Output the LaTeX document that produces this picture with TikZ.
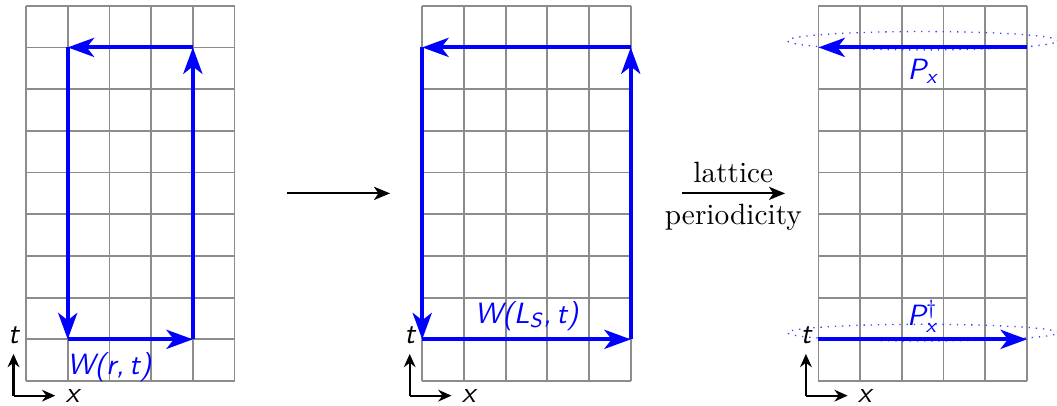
\documentclass[tikz,border=0pt]{standalone}
\usepackage{amsmath}
\usetikzlibrary{arrows.meta}
\tikzset{
  gridline/.style={draw=black!45, line width=0.6pt},
  loopseg/.style={draw=blue, line width=1.4pt, -{Stealth[length=9pt,width=6.5pt,inset=2.5pt]}},
  axisarrow/.style={draw=black, line width=0.75pt, -{Stealth[length=4.5pt,width=4pt]}},
  maparrow/.style={draw=black, line width=0.7pt, -{Stealth[length=5.5pt,width=4.5pt,inset=1.5pt]}},
  bluelbl/.style={text=blue, font=\sffamily\itshape, inner sep=0pt},
  axlbl/.style={font=\sffamily\itshape},
  halo/.style={draw=blue!75, dotted, line width=0.45pt},
}
\begin{document}
\begin{tikzpicture}[x=0.5cm,y=0.5cm]
\useasboundingbox (-0.624,-0.576) rectangle (24.72,9.137);

% grids
\foreach \gx in {0,9.5,19}{
  \foreach \i in {0,...,5}{
    \draw[gridline] (\gx+\i,0) -- (\gx+\i,9);
  }
  \foreach \j in {0,...,9}{
    \draw[gridline] (\gx,\j) -- (\gx+5,\j);
  }
}

% axes 1
\coordinate (o1) at (-0.3,-0.35);
\coordinate (x1) at (0.7,-0.35);
\coordinate (t1) at (-0.3,0.65);
\draw[axisarrow] (o1) -- (x1);
\draw[axisarrow] (o1) -- (t1);
\node[axlbl, right] (x1l) at (x1) {x};
\node[axlbl, above] (t1l) at (t1) {t};
% axes 2
\coordinate (o2) at (9.2,-0.35);
\coordinate (x2) at (10.2,-0.35);
\coordinate (t2) at (9.2,0.65);
\draw[axisarrow] (o2) -- (x2);
\draw[axisarrow] (o2) -- (t2);
\node[axlbl, right] (x2l) at (x2) {x};
\node[axlbl, above] (t2l) at (t2) {t};
% axes 3
\coordinate (o3) at (18.7,-0.35);
\coordinate (x3) at (19.7,-0.35);
\coordinate (t3) at (18.7,0.65);
\draw[axisarrow] (o3) -- (x3);
\draw[axisarrow] (o3) -- (t3);
\node[axlbl, right] (x3l) at (x3) {x};
\node[axlbl, above] (t3l) at (t3) {t};

% loop 1
\coordinate (a1) at (1,1);
\coordinate (b1) at (4,1);
\coordinate (c1) at (4,8);
\coordinate (d1) at (1,8);
\draw[loopseg] (a1) -- (b1);
\draw[loopseg] (b1) -- (c1);
\draw[loopseg] (c1) -- (d1);
\draw[loopseg] (d1) -- (a1);
\node[bluelbl, anchor=west] (w1) at (0.97,0.34) {W(r,\,t)};

% loop 2
\coordinate (a2) at (9.5,1);
\coordinate (b2) at (14.5,1);
\coordinate (c2) at (14.5,8);
\coordinate (d2) at (9.5,8);
\draw[loopseg] (a2) -- (b2);
\draw[loopseg] (b2) -- (c2);
\draw[loopseg] (c2) -- (d2);
\draw[loopseg] (d2) -- (a2);
\node[bluelbl] (w2) at (12,1.56) {W(L$_{\text{S}}$,\,t)};

% polyakov lines
\draw[halo] (21.5,8.16) ellipse [x radius=3.24, y radius=0.22];
\draw[halo] (21.5,1.16) ellipse [x radius=3.24, y radius=0.2];
\coordinate (a3) at (19,1);
\coordinate (b3) at (24,1);
\coordinate (c3) at (24,8);
\coordinate (d3) at (19,8);
\draw[loopseg] (c3) -- (d3);
\draw[loopseg] (a3) -- (b3);
\node[bluelbl, anchor=base] (px) at (21.5,7.24) {P$_{\text{x}}$};
\node[bluelbl, anchor=base] (pxd) at (21.5,1.34) {P$^{\dagger}_{\text{x}}$};

% map arrows
\coordinate (m1s) at (6.26,4.5);
\coordinate (m1e) at (8.73,4.5);
\draw[maparrow] (m1s) -- (m1e);
\coordinate (m2s) at (15.72,4.5);
\coordinate (m2e) at (18.2,4.5);
\draw[maparrow] (m2s) -- (m2e)
  node[midway, above] (lat) {lattice}
  node[midway, below] (per) {periodicity};
\end{tikzpicture}
\end{document}
